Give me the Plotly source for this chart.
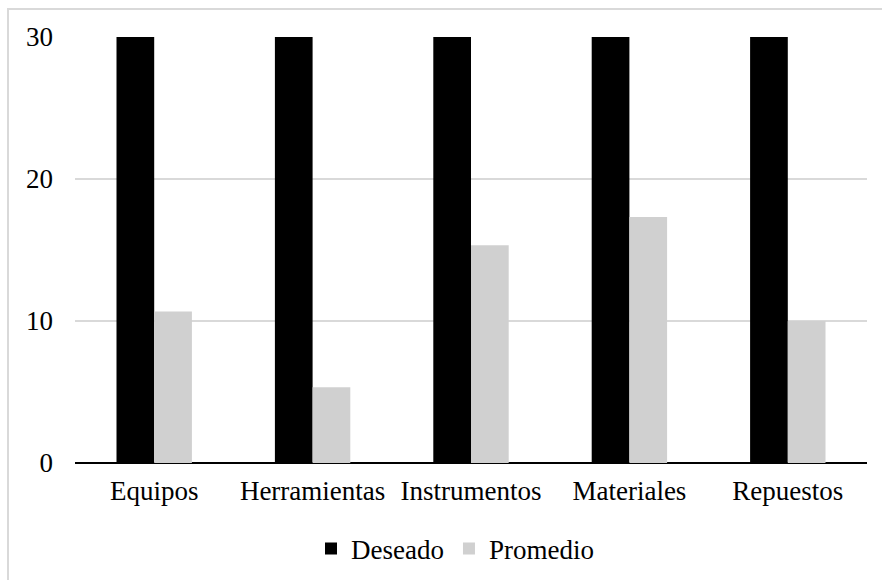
import plotly.graph_objects as go

categorias = ["Equipos", "Herramientas", "Instrumentos", "Materiales", "Repuestos"]
deseado = [30, 30, 30, 30, 30]
promedio = [10.67, 5.33, 15.33, 17.33, 10.0]
ticks_y = [0, 10, 20, 30]

W, H = 882, 580
ML, MR, MT, MB = 75, 15, 37, 117
FONT = "Liberation Serif"
FS = 27

fig = go.Figure()
fig.add_trace(go.Bar(name="Deseado", x=categorias, y=deseado,
                     marker=dict(color="#000000", line=dict(width=0))))
fig.add_trace(go.Bar(name="Promedio", x=categorias, y=promedio,
                     marker=dict(color="#d0d0d0", line=dict(width=0))))

# outer frame of the chart area
pw, ph = W - ML - MR, H - MT - MB
fig.add_shape(type="rect", xref="paper", yref="paper",
              x0=(8 - ML) / pw, x1=(W + 10 - ML) / pw,
              y0=-(H + 10 - (H - MB)) / ph, y1=((H - MB) - 9) / ph,
              line=dict(color="#d9d9d9", width=2), fillcolor="rgba(0,0,0,0)",
              layer="below")

fig.update_layout(
    width=W, height=H,
    margin=dict(l=ML, r=MR, t=MT, b=MB, autoexpand=False),
    paper_bgcolor="white", plot_bgcolor="white",
    barmode="group", bargap=0.524, bargroupgap=0,
    font=dict(family=FONT, size=FS, color="#000000"),
    showlegend=True,
    legend=dict(orientation="h", xref="container", yref="container",
                x=455 / W, xanchor="center", y=1 - 549 / H, yanchor="middle",
                font=dict(family=FONT, size=FS, color="#000000"),
                bgcolor="rgba(0,0,0,0)", traceorder="normal"),
)
fig.update_xaxes(showgrid=False, showline=False, ticks="", ticklabelstandoff=9,
                 tickfont=dict(family=FONT, size=FS, color="#000000"))
fig.update_yaxes(range=[0, 30], tickvals=ticks_y, showgrid=True, gridcolor="#d9d9d9",
                 gridwidth=1.5, zeroline=True, zerolinecolor="#000000", zerolinewidth=2,
                 showline=False, ticks="", ticklabelstandoff=21,
                 tickfont=dict(family=FONT, size=FS, color="#000000"))

fig.write_html("out.html")
